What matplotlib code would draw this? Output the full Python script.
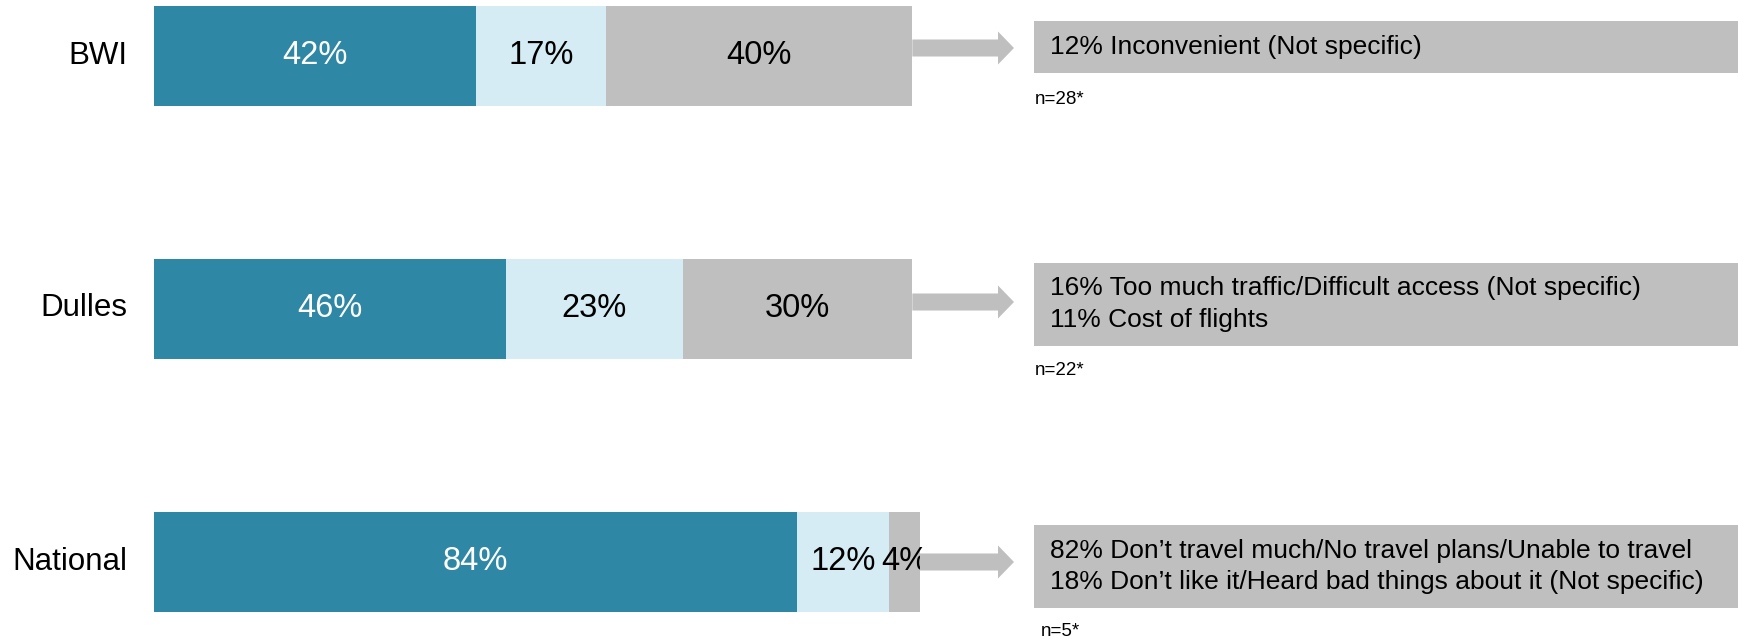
import matplotlib
matplotlib.use("Agg")
import matplotlib.pyplot as plt
from matplotlib.patches import FancyArrow, Rectangle

plt.rcParams['font.family'] = ['Liberation Sans', 'DejaVu Sans']

categories = ["BWI", "Dulles", "National"]
seg1 = [42, 46, 84]
seg2 = [17, 23, 12]
seg3 = [40, 30, 4]
seg_labels1 = ["42%", "46%", "84%"]
seg_labels2 = ["17%", "23%", "12%"]
seg_labels3 = ["40%", "30%", "4%"]
reasons = [
    ["12% Inconvenient (Not specific)"],
    ["16% Too much traffic/Difficult access (Not specific)", "11% Cost of flights"],
    ["82% Don\u2019t travel much/No travel plans/Unable to travel",
     "18% Don\u2019t like it/Heard bad things about it (Not specific)"],
]
n_labels = ["n=28*", "n=22*", "n=5*"]

c_dark = "#2E87A4"
c_light = "#D5ECF4"
c_gray = "#BFBFBF"

W, H = 1738, 643
fig = plt.figure(figsize=(W / 100, H / 100), dpi=100)

# bar axes: 0% at x=154px, 100% at x=920px
x0, x100 = 154, 920
ax = fig.add_axes([x0 / W, 0, (x100 - x0) / W, 1])
ax.set_xlim(0, 100)
spacing = 253.0
top_c = 55.5
ylim_top = -top_c / spacing
ylim_bot = (H - top_c) / spacing
ax.set_ylim(ylim_bot, ylim_top)
ax.axis("off")

ypos = list(range(len(categories)))
bh = 100 / spacing
ax.barh(ypos, seg1, height=bh, color=c_dark)
ax.barh(ypos, seg2, left=seg1, height=bh, color=c_light)
left3 = [a + b for a, b in zip(seg1, seg2)]
ax.barh(ypos, seg3, left=left3, height=bh, color=c_gray)

fs = 23.5
for i in ypos:
    ax.text(seg1[i] / 2, i, seg_labels1[i], ha="center", va="center",
            color="white", fontsize=fs)
    ax.text(seg1[i] + seg2[i] / 2, i, seg_labels2[i], ha="center", va="center",
            color="black", fontsize=fs)
    ax.text(left3[i] + seg3[i] / 2, i, seg_labels3[i], ha="center", va="center",
            color="black", fontsize=fs)
    ax.text(-3.5, i, categories[i], ha="right", va="center", fontsize=22.5,
            color="black")

# overlay axes for arrows and reason boxes, x in pixels, y in category units
ov = fig.add_axes([0, 0, 1, 1], facecolor="none")
ov.set_xlim(0, W)
ov.set_ylim(ylim_bot, ylim_top)
ov.axis("off")

px = 1 / spacing  # one pixel in category units
box_x0 = 1034
box_spec = [(-34.5, 52), (-46, 83), (-36.5, 83)]    # (top offset px, height px)
arrow_off = [-7.5, -6.5, 0.5]
line_gap = 31
n_x = [1035, 1035, 1041]
n_off = [44.5, 62, 70.5]

for i in ypos:
    total = seg1[i] + seg2[i] + seg3[i]
    bar_end = x0 + (x100 - x0) * total / 100
    ya = i + arrow_off[i] * px
    tip = 1014
    arr = FancyArrow(bar_end, ya, tip - bar_end, 0, width=17 * px,
                     head_width=33 * px, head_length=16,
                     length_includes_head=True, color=c_gray, lw=0)
    ov.add_patch(arr)

    top, hgt = box_spec[i]
    ov.add_patch(Rectangle((box_x0, i + top * px), W - box_x0, hgt * px,
                           facecolor=c_gray, edgecolor="none"))
    lines = reasons[i]
    cy = i + (top + hgt / 2) * px
    nlines = len(lines)
    for k, line in enumerate(lines):
        yy = cy + (k - (nlines - 1) / 2) * line_gap * px
        ov.text(1050, yy, line, ha="left", va="center", fontsize=19,
                color="black")
    ov.text(n_x[i], i + n_off[i] * px, n_labels[i], ha="left",
            va="center", fontsize=13.5, color="black")

fig.savefig("out.png", dpi=100)
